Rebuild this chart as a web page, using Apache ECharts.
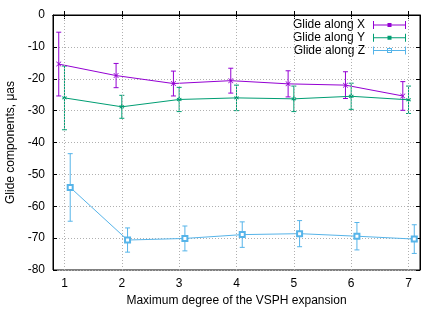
<!DOCTYPE html>
<html><head><meta charset="utf-8">
<script src="https://cdn.jsdelivr.net/npm/echarts@6/dist/echarts.min.js"></script>
<style>html,body{margin:0;padding:0;background:#fff}#c{width:443px;height:310px}</style>
</head><body><div id="c"></div>
<script>
const degrees = [1, 2, 3, 4, 5, 6, 7];
const xTickValues = [1, 2, 3, 4, 5, 6, 7];
const yTicksMin = -80, yTicksMax = 0, yStep = 10;
const seriesNames = ['Glide along X', 'Glide along Y', 'Glide along Z'];
const posX = [0.9, 1.9, 2.9, 3.9, 4.9, 5.9, 6.9];
const posY = [1, 2, 3, 4, 5, 6, 7];
const posZ = [1.1, 2.1, 3.1, 4.1, 5.1, 6.1, 7.1];
const valX = [-15.4, -19.0, -21.5, -20.6, -21.6, -22.0, -25.4];
const errX = [10.0, 3.8, 3.9, 3.9, 4.1, 4.2, 4.5];
const valY = [-26.0, -28.8, -26.5, -26.0, -26.3, -25.5, -26.6];
const errY = [10.0, 3.6, 3.8, 4.0, 4.0, 4.1, 4.3];
const valZ = [-54.1, -70.6, -70.1, -68.9, -68.6, -69.4, -70.3];
const errZ = [10.6, 3.8, 3.9, 4.0, 4.1, 4.3, 4.5];

const colors = ['#9400d3', '#009e73', '#56b4e9'];
const FONT = 'Liberation Sans, Arial, sans-serif';

function pts(xs, vs) { return xs.map((x, i) => [x, vs[i]]); }
function bars(xs, vs, es) { return xs.map((x, i) => [x, vs[i] - es[i], vs[i] + es[i]]); }

function errRender(color) {
  return function (params, api) {
    const x = api.value(0);
    const lo = api.coord([x, api.value(1)]);
    const hi = api.coord([x, api.value(2)]);
    const cw = 2.5;
    const st = { stroke: color, lineWidth: 1 };
    return {
      type: 'group',
      children: [
        { type: 'line', shape: { x1: lo[0], y1: lo[1], x2: hi[0], y2: hi[1] }, style: st },
        { type: 'line', shape: { x1: lo[0] - cw, y1: lo[1], x2: lo[0] + cw, y2: lo[1] }, style: st },
        { type: 'line', shape: { x1: hi[0] - cw, y1: hi[1], x2: hi[0] + cw, y2: hi[1] }, style: st }
      ]
    };
  };
}

const crossSym = 'path://M0,0L1,0L5,4L9,0L10,0L10,1L6,5L10,9L10,10L9,10L5,6L1,10L0,10L0,9L4,5L0,1Z';
const starSym = 'path://M4,0h2v3.2l2.8,-1.6l1,1.7l-2.8,1.7l2.8,1.7l-1,1.7l-2.8,-1.6v3.2h-2v-3.2l-2.8,1.6l-1,-1.7l2.8,-1.7l-2.8,-1.7l1,-1.7l2.8,1.6z';

const legBase = 'M0,3.5h33v1H0z M0,0h1v8H0z M32,0h1v8h-1z';
const legIcons = [
  'path://' + legBase + ' M14.5,2h4v4h-4z',
  'path://' + legBase + ' M14.5,2h4v4h-4z',
  'path://' + legBase + ' M14,1.5h5v1h-5z M14,5.5h5v1h-5z M14,1.5h1v5h-1z M18,1.5h1v5h-1z'
];

const chart = echarts.init(document.getElementById('c'), null, { renderer: 'canvas' });
const gridLineStyle = { color: '#b0b0b0', type: [1, 2], width: 1 };

const option = {
  animation: false,
  backgroundColor: '#fff',
  grid: { left: 53, top: 15, right: 23, bottom: 40, show: true, borderColor: '#000', borderWidth: 1, backgroundColor: 'transparent', outerBoundsMode: 'none', containLabel: false },
  legend: {
    orient: 'vertical', right: 32, top: 14, align: 'right', padding: 5,
    itemWidth: 33, itemHeight: 8, itemGap: 0.8,
    textStyle: { fontSize: 12, color: '#000', fontFamily: FONT, lineHeight: 12, padding: [0, 3, 0, 0] },
    selectedMode: false,
    data: seriesNames.map((n, i) => ({ name: n, icon: legIcons[i], itemStyle: { color: colors[i] } }))
  },
  xAxis: [{
    type: 'value', min: 0.8, max: 7.2, position: 'bottom',
    name: 'Maximum degree of the VSPH expansion', nameLocation: 'middle', nameGap: 24,
    nameTextStyle: { fontSize: 12, color: '#000', fontFamily: FONT },
    axisLine: { show: true, lineStyle: { color: '#000' } },
    axisTick: { show: true, inside: true, length: 4, customValues: xTickValues, lineStyle: { color: '#000' } },
    axisLabel: { customValues: xTickValues, fontSize: 12, color: '#000', fontFamily: FONT, margin: 8 },
    splitLine: { show: false }
  }, {
    type: 'value', min: 0.8, max: 7.2, position: 'top',
    axisLine: { show: true, lineStyle: { color: '#000' } },
    axisTick: { show: true, inside: true, length: 4, customValues: xTickValues, lineStyle: { color: '#000' } },
    axisLabel: { show: false }, splitLine: { show: false }
  }],
  yAxis: [{
    type: 'value', min: yTicksMin, max: yTicksMax, interval: yStep, position: 'left',
    name: 'Glide components, μas', nameLocation: 'middle', nameGap: 35,
    nameTextStyle: { fontSize: 12, color: '#000', fontFamily: FONT },
    axisLine: { show: true, lineStyle: { color: '#000' } },
    axisTick: { show: true, inside: true, length: 4, lineStyle: { color: '#000' } },
    axisLabel: { fontSize: 12, color: '#000', fontFamily: FONT, margin: 8 },
    splitLine: { show: true, lineStyle: gridLineStyle }
  }, {
    type: 'value', min: yTicksMin, max: yTicksMax, interval: yStep, position: 'right',
    axisLine: { show: true, lineStyle: { color: '#000' } },
    axisTick: { show: true, inside: true, length: 4, lineStyle: { color: '#000' } },
    axisLabel: { show: false }, splitLine: { show: false }
  }],
  series: [
    {
      type: 'line', name: '_grid', data: [], z: 0, silent: true,
      markLine: {
        silent: true, symbol: 'none', label: { show: false },
        lineStyle: gridLineStyle, animation: false,
        data: xTickValues.map(v => ({ xAxis: v }))
      }
    },
    { type: 'custom', name: seriesNames[0], renderItem: errRender(colors[0]), data: bars(posX, valX, errX), z: 3, encode: { x: 0, y: [1, 2] } },
    { type: 'custom', name: seriesNames[1], renderItem: errRender(colors[1]), data: bars(posY, valY, errY), z: 3, encode: { x: 0, y: [1, 2] } },
    { type: 'custom', name: seriesNames[2], renderItem: errRender(colors[2]), data: bars(posZ, valZ, errZ), z: 3, encode: { x: 0, y: [1, 2] } },
    { type: 'line', name: seriesNames[0], data: pts(posX, valX), symbol: crossSym, symbolSize: 5, color: colors[0], lineStyle: { width: 1 }, itemStyle: { color: colors[0] }, z: 4 },
    { type: 'line', name: seriesNames[1], data: pts(posY, valY), symbol: starSym, symbolSize: 5, color: colors[1], lineStyle: { width: 1 }, itemStyle: { color: colors[1] }, z: 4 },
    { type: 'line', name: seriesNames[2], data: pts(posZ, valZ), symbol: 'emptyRect', symbolSize: 5, color: colors[2], lineStyle: { width: 1 }, itemStyle: { color: colors[2], borderWidth: 1 }, z: 4 }
  ]
};
chart.setOption(option);
</script></body></html>
